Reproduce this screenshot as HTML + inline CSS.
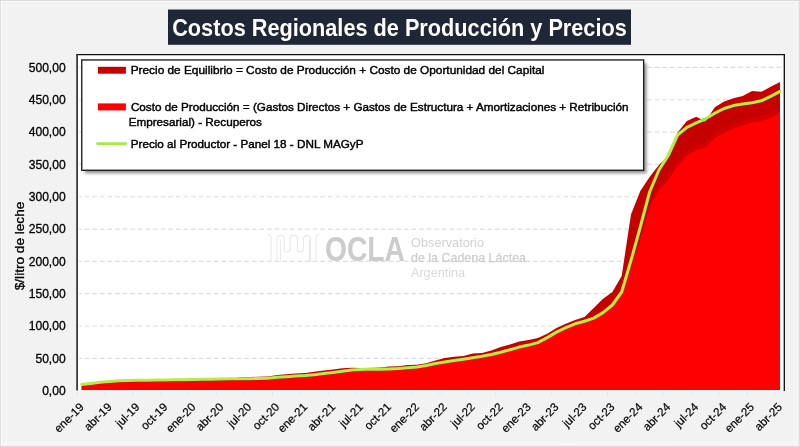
<!DOCTYPE html>
<html><head><meta charset="utf-8"><title>Costos Regionales de Producción y Precios</title>
<style>
html,body{margin:0;padding:0;background:#f2f2f2;}
body{width:800px;height:447px;overflow:hidden;font-family:"Liberation Sans",sans-serif;}
svg{display:block;font-family:"Liberation Sans",sans-serif;will-change:transform;}
</style></head><body>
<svg width="800" height="447" viewBox="0 0 800 447">
<defs>
<filter id="sh" x="-5%" y="-5%" width="115%" height="125%"><feGaussianBlur stdDeviation="1.7"/></filter>
</defs>
<rect x="0" y="0" width="800" height="447" fill="#f2f2f2"/>

<rect x="0.5" y="0.5" width="799" height="446" fill="none" stroke="#dcdcdc" stroke-width="1"/>
<path d="M1.5,446 V1.5 H799" fill="none" stroke="#fafafa" stroke-width="1.2"/>
<path d="M1.5,444.2 H796.7 V1.5" fill="none" stroke="#f9f9f9" stroke-width="1.2"/>
<path d="M6.4,442 V6 H794.4 V441.9 Z" fill="none" stroke="#f7f7f7" stroke-width="1.1"/>
<rect x="77.1" y="54.6" width="707.2" height="336.0" fill="#ffffff"/>
<line x1="79.1" y1="358.33" x2="782.3" y2="358.33" stroke="#dddddd" stroke-width="1.2" stroke-dasharray="4.6,3" stroke-dashoffset="2"/>
<line x1="79.1" y1="326.01" x2="782.3" y2="326.01" stroke="#dddddd" stroke-width="1.2" stroke-dasharray="4.6,3" stroke-dashoffset="2"/>
<line x1="79.1" y1="293.69" x2="782.3" y2="293.69" stroke="#dddddd" stroke-width="1.2" stroke-dasharray="4.6,3" stroke-dashoffset="2"/>
<line x1="79.1" y1="261.37" x2="782.3" y2="261.37" stroke="#dddddd" stroke-width="1.2" stroke-dasharray="4.6,3" stroke-dashoffset="2"/>
<line x1="79.1" y1="229.05" x2="782.3" y2="229.05" stroke="#dddddd" stroke-width="1.2" stroke-dasharray="4.6,3" stroke-dashoffset="2"/>
<line x1="79.1" y1="196.73" x2="782.3" y2="196.73" stroke="#dddddd" stroke-width="1.2" stroke-dasharray="4.6,3" stroke-dashoffset="2"/>
<line x1="79.1" y1="164.41" x2="782.3" y2="164.41" stroke="#dddddd" stroke-width="1.2" stroke-dasharray="4.6,3" stroke-dashoffset="2"/>
<line x1="79.1" y1="132.09" x2="782.3" y2="132.09" stroke="#dddddd" stroke-width="1.2" stroke-dasharray="4.6,3" stroke-dashoffset="2"/>
<line x1="79.1" y1="99.77" x2="782.3" y2="99.77" stroke="#dddddd" stroke-width="1.2" stroke-dasharray="4.6,3" stroke-dashoffset="2"/>
<line x1="79.1" y1="67.45" x2="782.3" y2="67.45" stroke="#dddddd" stroke-width="1.2" stroke-dasharray="4.6,3" stroke-dashoffset="2"/>
<g fill="none" stroke="#e9e9e9" stroke-width="1.1"><path d="M277,262 V239 a3.6,3.6 0 0 1 7.2,0 V249 a3,3 0 0 0 6,0 V239 a3.6,3.6 0 0 1 7.2,0 V249 a3,3 0 0 0 6,0 V239 a3.6,3.6 0 0 1 7.2,0 V262"/><path d="M280.4,262 V239.5 M309.4,262 V239.5"/><path d="M268,234.5 q3,0 3,4 V262 M319,234.5 q-3,0 -3,4 V262"/></g>
<text x="325" y="261.3" font-size="35" font-weight="bold" fill="#cccccc" textLength="80" lengthAdjust="spacingAndGlyphs">OCLA</text>
<text x="411" y="246.5" font-size="13.5" fill="#d2d2d2" textLength="73" lengthAdjust="spacingAndGlyphs">Observatorio</text>
<text x="411" y="261.5" font-size="13.5" fill="#cdcdcd" stroke="#cdcdcd" stroke-width="0.25" textLength="115" lengthAdjust="spacingAndGlyphs">de la Cadena Láctea</text>
<text x="411" y="277" font-size="13.5" fill="#dadada" textLength="54" lengthAdjust="spacingAndGlyphs">Argentina</text>
<path d="M81.65,384.70 L90.96,383.70 L100.27,382.60 L109.58,381.80 L118.89,381.10 L128.21,380.70 L137.52,380.60 L146.83,380.50 L156.14,380.40 L165.45,380.20 L174.76,380.10 L184.07,380.00 L193.38,379.80 L202.69,379.60 L212.00,379.50 L221.31,379.30 L230.63,379.10 L239.94,377.30 L249.25,377.00 L258.56,376.80 L267.87,376.40 L277.18,375.00 L286.49,374.30 L295.80,373.40 L305.11,372.90 L314.43,371.85 L323.74,370.60 L333.05,369.40 L342.36,368.35 L351.67,367.65 L360.98,368.00 L370.29,368.00 L379.60,367.60 L388.91,366.50 L398.22,366.30 L407.53,365.00 L416.85,364.70 L426.16,363.20 L435.47,360.50 L444.78,358.10 L454.09,356.80 L463.40,355.90 L472.71,353.50 L482.02,353.10 L491.33,350.40 L500.64,346.90 L509.96,344.40 L519.27,341.40 L528.58,340.10 L537.89,338.10 L547.20,333.80 L556.51,328.10 L565.82,323.80 L575.13,320.10 L584.44,317.10 L593.75,308.00 L603.07,298.80 L612.38,292.00 L621.69,276.00 L631.00,214.50 L640.31,191.00 L649.62,177.00 L658.93,165.00 L668.24,156.00 L677.55,132.50 L686.87,121.00 L696.18,116.80 L705.49,121.30 L714.80,107.30 L724.11,101.50 L733.42,98.20 L742.73,96.00 L752.04,90.90 L761.35,91.80 L770.66,86.70 L779.98,81.90 L779.98,390.10 L81.65,390.10 Z" fill="#c60000"/>
<path d="M640.31,239.00 L649.62,205.00 L658.93,187.00 L668.24,176.00 L677.55,161.00 L686.87,150.80 L696.18,145.20 L705.49,142.50 L714.80,133.00 L724.11,128.00 L733.42,123.80 L742.73,120.50 L752.04,117.50 L761.35,115.90 L770.66,112.60 L779.98,108.40 L779.98,390.10 L640.31,390.10 Z" fill="#d40000"/>
<path d="M81.65,386.40 L90.96,385.40 L100.27,384.30 L109.58,383.50 L118.89,382.80 L128.21,382.40 L137.52,382.30 L146.83,382.20 L156.14,382.10 L165.45,381.90 L174.76,381.80 L184.07,381.70 L193.38,381.50 L202.69,381.30 L212.00,381.20 L221.31,381.00 L230.63,380.80 L239.94,380.70 L249.25,380.70 L258.56,380.55 L267.87,380.20 L277.18,379.30 L286.49,378.75 L295.80,378.05 L305.11,377.50 L314.43,376.65 L323.74,375.60 L333.05,374.40 L342.36,373.15 L351.67,372.10 L360.98,371.40 L370.29,370.30 L379.60,370.30 L388.91,370.10 L398.22,369.70 L407.53,369.00 L416.85,368.10 L426.16,366.60 L435.47,364.80 L444.78,363.10 L454.09,361.70 L463.40,360.40 L472.71,358.90 L482.02,357.40 L491.33,355.60 L500.64,353.40 L509.96,350.90 L519.27,348.30 L528.58,346.30 L537.89,343.80 L547.20,338.80 L556.51,333.30 L565.82,328.80 L575.13,325.00 L584.44,322.50 L593.75,319.30 L603.07,313.80 L612.38,306.20 L621.69,294.00 L631.00,268.00 L640.31,240.00 L649.62,207.00 L658.93,190.00 L668.24,180.00 L677.55,166.00 L686.87,155.80 L696.18,150.20 L705.49,147.50 L714.80,138.00 L724.11,133.00 L733.42,128.80 L742.73,125.50 L752.04,122.50 L761.35,120.90 L770.66,117.60 L779.98,113.40 L779.98,390.10 L81.65,390.10 Z" fill="#ff0000"/>
<path d="M81.65,384.40 L90.96,383.40 L100.27,382.30 L109.58,381.50 L118.89,380.80 L128.21,380.40 L137.52,380.30 L146.83,380.20 L156.14,380.10 L165.45,379.90 L174.76,379.80 L184.07,379.70 L193.38,379.50 L202.69,379.30 L212.00,379.20 L221.31,379.00 L230.63,378.80 L239.94,378.70 L249.25,378.70 L258.56,378.55 L267.87,378.20 L277.18,377.30 L286.49,376.75 L295.80,376.05 L305.11,375.50 L314.43,374.65 L323.74,373.60 L333.05,372.40 L342.36,371.15 L351.67,370.10 L360.98,369.40 L370.29,369.10 L379.60,369.10 L388.91,368.90 L398.22,368.50 L407.53,367.80 L416.85,366.90 L426.16,365.40 L435.47,363.60 L444.78,361.90 L454.09,360.50 L463.40,359.20 L472.71,357.70 L482.02,356.20 L491.33,354.40 L500.64,352.20 L509.96,349.70 L519.27,347.10 L528.58,345.10 L537.89,342.60 L547.20,337.60 L556.51,332.10 L565.82,327.60 L575.13,323.80 L584.44,321.30 L593.75,318.10 L603.07,312.60 L612.38,305.00 L621.69,292.00 L631.00,260.50 L640.31,227.00 L649.62,192.00 L658.93,170.00 L668.24,155.50 L677.55,135.00 L686.87,127.40 L696.18,122.80 L705.49,118.80 L714.80,113.20 L724.11,108.50 L733.42,105.60 L742.73,104.10 L752.04,102.80 L761.35,100.80 L770.66,96.40 L779.98,91.30" fill="none" stroke="#b6ee3c" stroke-width="3.05" stroke-linejoin="round" stroke-linecap="round"/>
<circle cx="703.8" cy="119.7" r="1.9" fill="#86f23c"/>
<rect x="78.1" y="390.40" width="706.2" height="2.2" fill="#eef3f6"/>
<line x1="77.10" y1="392.1" x2="77.10" y2="395.1" stroke="#e2e6ea" stroke-width="1"/>
<line x1="105.02" y1="392.1" x2="105.02" y2="395.1" stroke="#e2e6ea" stroke-width="1"/>
<line x1="132.93" y1="392.1" x2="132.93" y2="395.1" stroke="#e2e6ea" stroke-width="1"/>
<line x1="160.85" y1="392.1" x2="160.85" y2="395.1" stroke="#e2e6ea" stroke-width="1"/>
<line x1="188.76" y1="392.1" x2="188.76" y2="395.1" stroke="#e2e6ea" stroke-width="1"/>
<line x1="216.68" y1="392.1" x2="216.68" y2="395.1" stroke="#e2e6ea" stroke-width="1"/>
<line x1="244.59" y1="392.1" x2="244.59" y2="395.1" stroke="#e2e6ea" stroke-width="1"/>
<line x1="272.51" y1="392.1" x2="272.51" y2="395.1" stroke="#e2e6ea" stroke-width="1"/>
<line x1="300.43" y1="392.1" x2="300.43" y2="395.1" stroke="#e2e6ea" stroke-width="1"/>
<line x1="328.34" y1="392.1" x2="328.34" y2="395.1" stroke="#e2e6ea" stroke-width="1"/>
<line x1="356.26" y1="392.1" x2="356.26" y2="395.1" stroke="#e2e6ea" stroke-width="1"/>
<line x1="384.17" y1="392.1" x2="384.17" y2="395.1" stroke="#e2e6ea" stroke-width="1"/>
<line x1="412.09" y1="392.1" x2="412.09" y2="395.1" stroke="#e2e6ea" stroke-width="1"/>
<line x1="440.01" y1="392.1" x2="440.01" y2="395.1" stroke="#e2e6ea" stroke-width="1"/>
<line x1="467.92" y1="392.1" x2="467.92" y2="395.1" stroke="#e2e6ea" stroke-width="1"/>
<line x1="495.84" y1="392.1" x2="495.84" y2="395.1" stroke="#e2e6ea" stroke-width="1"/>
<line x1="523.75" y1="392.1" x2="523.75" y2="395.1" stroke="#e2e6ea" stroke-width="1"/>
<line x1="551.67" y1="392.1" x2="551.67" y2="395.1" stroke="#e2e6ea" stroke-width="1"/>
<line x1="579.58" y1="392.1" x2="579.58" y2="395.1" stroke="#e2e6ea" stroke-width="1"/>
<line x1="607.50" y1="392.1" x2="607.50" y2="395.1" stroke="#e2e6ea" stroke-width="1"/>
<line x1="635.42" y1="392.1" x2="635.42" y2="395.1" stroke="#e2e6ea" stroke-width="1"/>
<line x1="663.33" y1="392.1" x2="663.33" y2="395.1" stroke="#e2e6ea" stroke-width="1"/>
<line x1="691.25" y1="392.1" x2="691.25" y2="395.1" stroke="#e2e6ea" stroke-width="1"/>
<line x1="719.16" y1="392.1" x2="719.16" y2="395.1" stroke="#e2e6ea" stroke-width="1"/>
<line x1="747.08" y1="392.1" x2="747.08" y2="395.1" stroke="#e2e6ea" stroke-width="1"/>
<line x1="774.99" y1="392.1" x2="774.99" y2="395.1" stroke="#e2e6ea" stroke-width="1"/>
<line x1="76.20" y1="54.60" x2="784.95" y2="54.60" stroke="#111111" stroke-width="1.4"/>
<line x1="77.10" y1="54.60" x2="77.10" y2="390.45" stroke="#3c3c3c" stroke-width="1.8"/>
<line x1="784.30" y1="54.60" x2="784.30" y2="391.05" stroke="#0a0a0a" stroke-width="1.3"/>
<rect x="84.6" y="63" width="562" height="110.3" fill="#000" opacity="0.42" filter="url(#sh)"/>
<rect x="81.75" y="59.95" width="561.9" height="110.3" fill="#ffffff" stroke="#1c1c1c" stroke-width="1.35"/>
<rect x="97.9" y="66.8" width="28" height="6.9" fill="#c40000"/>
<rect x="97.9" y="103.4" width="28" height="7" fill="#ff0000"/>
<line x1="97.5" y1="143.6" x2="125.8" y2="143.6" stroke="#a6ea48" stroke-width="2.8" stroke-linecap="round"/>
<text x="130.7" y="74.1" font-size="11.4" fill="#000" stroke="#000" stroke-width="0.42" textLength="413.7" lengthAdjust="spacingAndGlyphs">Precio de Equilibrio = Costo de Producción + Costo de Oportunidad del Capital</text>
<text x="130.9" y="110.7" font-size="11.4" fill="#000" stroke="#000" stroke-width="0.42" textLength="497.7" lengthAdjust="spacingAndGlyphs">Costo de Producción = (Gastos Directos + Gastos de Estructura + Amortizaciones + Retribución</text>
<text x="128.7" y="126.4" font-size="11.4" fill="#000" stroke="#000" stroke-width="0.42" textLength="133.2" lengthAdjust="spacingAndGlyphs">Empresarial) - Recuperos</text>
<text x="130.7" y="147.6" font-size="11.4" fill="#000" stroke="#000" stroke-width="0.42" textLength="232.8" lengthAdjust="spacingAndGlyphs">Precio al Productor - Panel 18 - DNL MAGyP</text>
<rect x="168" y="9.5" width="463" height="35.3" fill="#1f2636"/>
<text x="172.2" y="35.6" font-size="23.4" font-weight="bold" fill="#ffffff" textLength="454.6" lengthAdjust="spacingAndGlyphs">Costos Regionales de Producción y Precios</text>
<text x="65.7" y="395.00" font-size="12.1" text-anchor="end" fill="#000" stroke="#000" stroke-width="0.3">0,00</text>
<text x="65.7" y="362.68" font-size="12.1" text-anchor="end" fill="#000" stroke="#000" stroke-width="0.3">50,00</text>
<text x="65.7" y="330.36" font-size="12.1" text-anchor="end" fill="#000" stroke="#000" stroke-width="0.3">100,00</text>
<text x="65.7" y="298.04" font-size="12.1" text-anchor="end" fill="#000" stroke="#000" stroke-width="0.3">150,00</text>
<text x="65.7" y="265.72" font-size="12.1" text-anchor="end" fill="#000" stroke="#000" stroke-width="0.3">200,00</text>
<text x="65.7" y="233.40" font-size="12.1" text-anchor="end" fill="#000" stroke="#000" stroke-width="0.3">250,00</text>
<text x="65.7" y="201.08" font-size="12.1" text-anchor="end" fill="#000" stroke="#000" stroke-width="0.3">300,00</text>
<text x="65.7" y="168.76" font-size="12.1" text-anchor="end" fill="#000" stroke="#000" stroke-width="0.3">350,00</text>
<text x="65.7" y="136.44" font-size="12.1" text-anchor="end" fill="#000" stroke="#000" stroke-width="0.3">400,00</text>
<text x="65.7" y="104.12" font-size="12.1" text-anchor="end" fill="#000" stroke="#000" stroke-width="0.3">450,00</text>
<text x="65.7" y="71.80" font-size="12.1" text-anchor="end" fill="#000" stroke="#000" stroke-width="0.3">500,00</text>
<text transform="translate(24.2,246) rotate(-90)" font-size="12.3" text-anchor="middle" textLength="88.5" lengthAdjust="spacingAndGlyphs" fill="#000" stroke="#000" stroke-width="0.3">$/litro de leche</text>
<text transform="translate(84.55,407.8) rotate(-45)" font-size="11.6" text-anchor="end" fill="#000" stroke="#000" stroke-width="0.2">ene-19</text>
<text transform="translate(112.48,407.8) rotate(-45)" font-size="11.6" text-anchor="end" fill="#000" stroke="#000" stroke-width="0.2">abr-19</text>
<text transform="translate(140.42,407.8) rotate(-45)" font-size="11.6" text-anchor="end" fill="#000" stroke="#000" stroke-width="0.2">jul-19</text>
<text transform="translate(168.35,407.8) rotate(-45)" font-size="11.6" text-anchor="end" fill="#000" stroke="#000" stroke-width="0.2">oct-19</text>
<text transform="translate(196.28,407.8) rotate(-45)" font-size="11.6" text-anchor="end" fill="#000" stroke="#000" stroke-width="0.2">ene-20</text>
<text transform="translate(224.22,407.8) rotate(-45)" font-size="11.6" text-anchor="end" fill="#000" stroke="#000" stroke-width="0.2">abr-20</text>
<text transform="translate(252.15,407.8) rotate(-45)" font-size="11.6" text-anchor="end" fill="#000" stroke="#000" stroke-width="0.2">jul-20</text>
<text transform="translate(280.08,407.8) rotate(-45)" font-size="11.6" text-anchor="end" fill="#000" stroke="#000" stroke-width="0.2">oct-20</text>
<text transform="translate(308.01,407.8) rotate(-45)" font-size="11.6" text-anchor="end" fill="#000" stroke="#000" stroke-width="0.2">ene-21</text>
<text transform="translate(335.95,407.8) rotate(-45)" font-size="11.6" text-anchor="end" fill="#000" stroke="#000" stroke-width="0.2">abr-21</text>
<text transform="translate(363.88,407.8) rotate(-45)" font-size="11.6" text-anchor="end" fill="#000" stroke="#000" stroke-width="0.2">jul-21</text>
<text transform="translate(391.81,407.8) rotate(-45)" font-size="11.6" text-anchor="end" fill="#000" stroke="#000" stroke-width="0.2">oct-21</text>
<text transform="translate(419.75,407.8) rotate(-45)" font-size="11.6" text-anchor="end" fill="#000" stroke="#000" stroke-width="0.2">ene-22</text>
<text transform="translate(447.68,407.8) rotate(-45)" font-size="11.6" text-anchor="end" fill="#000" stroke="#000" stroke-width="0.2">abr-22</text>
<text transform="translate(475.61,407.8) rotate(-45)" font-size="11.6" text-anchor="end" fill="#000" stroke="#000" stroke-width="0.2">jul-22</text>
<text transform="translate(503.54,407.8) rotate(-45)" font-size="11.6" text-anchor="end" fill="#000" stroke="#000" stroke-width="0.2">oct-22</text>
<text transform="translate(531.48,407.8) rotate(-45)" font-size="11.6" text-anchor="end" fill="#000" stroke="#000" stroke-width="0.2">ene-23</text>
<text transform="translate(559.41,407.8) rotate(-45)" font-size="11.6" text-anchor="end" fill="#000" stroke="#000" stroke-width="0.2">abr-23</text>
<text transform="translate(587.34,407.8) rotate(-45)" font-size="11.6" text-anchor="end" fill="#000" stroke="#000" stroke-width="0.2">jul-23</text>
<text transform="translate(615.28,407.8) rotate(-45)" font-size="11.6" text-anchor="end" fill="#000" stroke="#000" stroke-width="0.2">oct-23</text>
<text transform="translate(643.21,407.8) rotate(-45)" font-size="11.6" text-anchor="end" fill="#000" stroke="#000" stroke-width="0.2">ene-24</text>
<text transform="translate(671.14,407.8) rotate(-45)" font-size="11.6" text-anchor="end" fill="#000" stroke="#000" stroke-width="0.2">abr-24</text>
<text transform="translate(699.08,407.8) rotate(-45)" font-size="11.6" text-anchor="end" fill="#000" stroke="#000" stroke-width="0.2">jul-24</text>
<text transform="translate(727.01,407.8) rotate(-45)" font-size="11.6" text-anchor="end" fill="#000" stroke="#000" stroke-width="0.2">oct-24</text>
<text transform="translate(754.94,407.8) rotate(-45)" font-size="11.6" text-anchor="end" fill="#000" stroke="#000" stroke-width="0.2">ene-25</text>
<text transform="translate(782.88,407.8) rotate(-45)" font-size="11.6" text-anchor="end" fill="#000" stroke="#000" stroke-width="0.2">abr-25</text>
</svg></body></html>
